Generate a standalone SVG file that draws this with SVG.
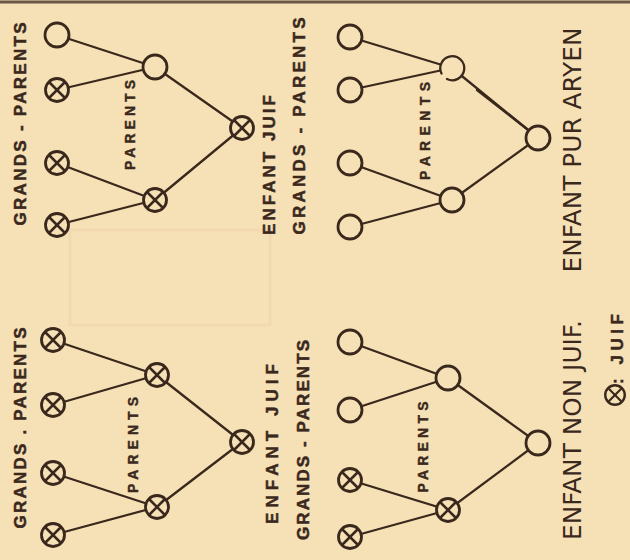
<svg xmlns="http://www.w3.org/2000/svg" width="630" height="560" viewBox="0 0 630 560">
<defs>
<style>
.bg{fill:#f6e1b6}
.edge{stroke:#3a281d;stroke-width:2.3;fill:none;stroke-linecap:round}
.n{fill:#f6e1b6;stroke:#3a281d;stroke-width:2.8}
.x{stroke:#3a281d;stroke-width:2.5;stroke-linecap:round}
.lbl{font-family:"Liberation Sans",Arial,sans-serif;font-weight:bold;font-size:17px;fill:#3a281d;stroke:#3a281d;stroke-width:0.5}
.sm{font-family:"Liberation Sans",Arial,sans-serif;font-weight:bold;font-size:14px;fill:#3a281d;stroke:#3a281d;stroke-width:0.4}
.big{font-family:"DejaVu Sans","Liberation Sans",sans-serif;font-size:24px;fill:#3a281d}
</style>
<g id="o"><circle class="n" r="12"/></g>
<g id="j"><circle class="n" r="11.5"/><line class="x" x1="-7" y1="-7" x2="7" y2="7"/><line class="x" x1="-7" y1="7" x2="7" y2="-7"/></g>
</defs>
<rect class="bg" width="630" height="560"/>
<rect x="70" y="230" width="200" height="95" fill="none" stroke="#e9c2a6" stroke-width="3" opacity="0.3"/>
<line x1="0" y1="2" x2="630" y2="2" stroke="#6a5748" stroke-width="3"/>

<g id="connectors">
<line class="edge" x1="57" y1="35" x2="155" y2="67"/>
<line class="edge" x1="57" y1="90" x2="155" y2="67"/>
<line class="edge" x1="57" y1="163" x2="155" y2="200"/>
<line class="edge" x1="57" y1="225" x2="155" y2="200"/>
<line class="edge" x1="155" y1="67" x2="242" y2="128"/>
<line class="edge" x1="155" y1="200" x2="242" y2="128"/>
<line class="edge" x1="350" y1="37" x2="452" y2="68"/>
<line class="edge" x1="350" y1="90" x2="452" y2="68"/>
<line class="edge" x1="350" y1="163" x2="452" y2="200"/>
<line class="edge" x1="350" y1="227" x2="452" y2="200"/>
<line class="edge" x1="452" y1="68" x2="538" y2="138"/>
<line class="edge" x1="477" y1="90" x2="527" y2="129" stroke-width="4"/>
<line class="edge" x1="452" y1="200" x2="538" y2="138"/>
<line class="edge" x1="53" y1="340" x2="157" y2="375"/>
<line class="edge" x1="53" y1="405" x2="157" y2="375"/>
<line class="edge" x1="53" y1="473" x2="157" y2="507"/>
<line class="edge" x1="53" y1="535" x2="157" y2="507"/>
<line class="edge" x1="157" y1="375" x2="242" y2="442"/>
<line class="edge" x1="157" y1="507" x2="242" y2="442"/>
<line class="edge" x1="350" y1="342" x2="448" y2="378"/>
<line class="edge" x1="350" y1="410" x2="448" y2="378"/>
<line class="edge" x1="350" y1="480" x2="448" y2="510"/>
<line class="edge" x1="350" y1="537" x2="448" y2="510"/>
<line class="edge" x1="448" y1="378" x2="538" y2="443"/>
<line class="edge" x1="448" y1="510" x2="538" y2="443"/>
</g>

<!-- top-left panel -->
<g id="tl-gp1"><use href="#o" x="57" y="35"/></g>
<g id="tl-gp2"><use href="#j" x="57" y="90"/></g>
<g id="tl-gp3"><use href="#j" x="57" y="163"/></g>
<g id="tl-gp4"><use href="#j" x="57" y="225"/></g>
<g id="tl-p1"><use href="#o" x="155" y="67"/></g>
<g id="tl-p2"><use href="#j" x="155" y="200"/></g>
<g id="tl-child"><use href="#j" x="242" y="128"/></g>
<text class="lbl" transform="translate(20,124) rotate(-90)" y="6" text-anchor="middle" textLength="203" lengthAdjust="spacing">GRANDS - PARENTS</text>
<text class="sm" transform="translate(130,125) rotate(-90)" y="5" text-anchor="middle" textLength="90" lengthAdjust="spacing">PARENTS</text>
<text class="lbl" transform="translate(269,165) rotate(-90)" y="6" text-anchor="middle" textLength="140" lengthAdjust="spacing">ENFANT  JUIF</text>

<!-- top-right panel -->
<text class="lbl" transform="translate(299,126) rotate(-90)" y="6" text-anchor="middle" textLength="217" lengthAdjust="spacing">GRANDS - PARENTS</text>
<g id="tr-gp1"><use href="#o" x="350" y="37"/></g>
<g id="tr-gp2"><use href="#o" x="350" y="90"/></g>
<g id="tr-gp3"><use href="#o" x="350" y="163"/></g>
<g id="tr-gp4"><use href="#o" x="350" y="227"/></g>
<g id="tr-p1"><circle r="12" cx="452" cy="68" fill="#f6e1b6" stroke="none"/><path class="edge" stroke-width="2.8" d="M 441.5 73.5 A 12 12 0 1 1 447 79"/></g>
<g id="tr-p2"><use href="#o" x="452" y="200"/></g>
<g id="tr-child"><use href="#o" x="538" y="138"/></g>
<text class="sm" transform="translate(425,131) rotate(-90)" y="5" text-anchor="middle" textLength="98" lengthAdjust="spacing">PARENTS</text>
<text class="big" transform="translate(572,150) rotate(-90)" y="8.7" text-anchor="middle" textLength="245" lengthAdjust="spacingAndGlyphs">ENFANT PUR ARYEN</text>

<!-- bottom-left panel -->
<text class="lbl" transform="translate(20,428) rotate(-90)" y="6" text-anchor="middle" textLength="201" lengthAdjust="spacing">GRANDS . PARENTS</text>
<g id="bl-gp1"><use href="#j" x="53" y="340"/></g>
<g id="bl-gp2"><use href="#j" x="53" y="405"/></g>
<g id="bl-gp3"><use href="#j" x="53" y="473"/></g>
<g id="bl-gp4"><use href="#j" x="53" y="535"/></g>
<g id="bl-p1"><use href="#j" x="157" y="375"/></g>
<g id="bl-p2"><use href="#j" x="157" y="507"/></g>
<g id="bl-child"><use href="#j" x="242" y="442"/></g>
<text class="sm" transform="translate(133,445) rotate(-90)" y="5" text-anchor="middle" textLength="96" lengthAdjust="spacing">PARENTS</text>
<text class="lbl" transform="translate(272,444) rotate(-90)" y="6" text-anchor="middle" textLength="160" lengthAdjust="spacing">ENFANT  JUIF</text>

<!-- bottom-right panel -->
<text class="lbl" transform="translate(303,440) rotate(-90)" y="6" text-anchor="middle" textLength="200" lengthAdjust="spacing">GRANDS - PARENTS</text>
<g id="br-gp1"><use href="#o" x="350" y="342"/></g>
<g id="br-gp2"><use href="#o" x="350" y="410"/></g>
<g id="br-gp3"><use href="#j" x="350" y="480"/></g>
<g id="br-gp4"><use href="#j" x="350" y="537"/></g>
<g id="br-p1"><use href="#o" x="448" y="378"/></g>
<g id="br-p2"><use href="#j" x="448" y="510"/></g>
<g id="br-child"><use href="#o" x="538" y="443"/></g>
<text class="sm" transform="translate(423,447) rotate(-90)" y="5" text-anchor="middle" textLength="91" lengthAdjust="spacing">PARENTS</text>
<text class="big" transform="translate(572,430) rotate(-90)" y="8.7" text-anchor="middle" textLength="220" lengthAdjust="spacingAndGlyphs">ENFANT NON JUIF.</text>

<!-- legend -->
<g id="legend">
<use href="#j" x="615" y="395" transform="translate(615,395) scale(0.85) translate(-615,-395)"/>
<text class="lbl" transform="translate(617,349) rotate(-90)" y="6" text-anchor="middle" textLength="70" lengthAdjust="spacing">: JUIF</text>
</g>
</svg>
